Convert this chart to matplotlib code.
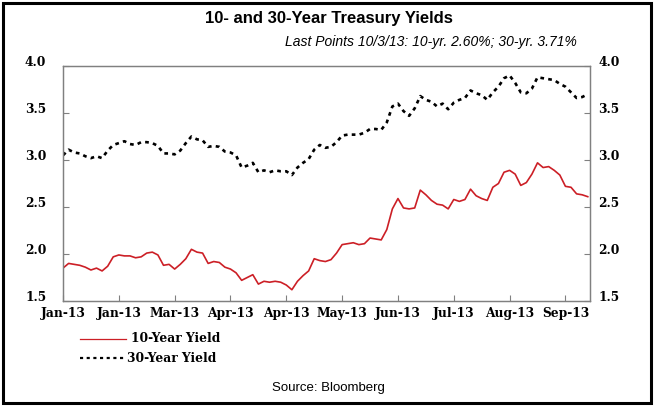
import matplotlib
matplotlib.use("Agg")
import matplotlib.pyplot as plt
from matplotlib.lines import Line2D
from matplotlib.patches import Rectangle
import numpy as np

# Yields sampled every second trading day, Jan 2 - Oct 3 2013
ten_year = [
    1.85, 1.90, 1.89, 1.88, 1.86, 1.83, 1.85, 1.82, 1.87, 1.97,
    1.99, 1.98, 1.98, 1.96, 1.97, 2.01, 2.02, 1.99, 1.88, 1.89,
    1.84, 1.89, 1.95, 2.05, 2.02, 2.01, 1.90, 1.92, 1.91, 1.86,
    1.84, 1.80, 1.72, 1.75, 1.78, 1.68, 1.71, 1.70, 1.71, 1.70,
    1.67, 1.62, 1.71, 1.77, 1.82, 1.95, 1.93, 1.92, 1.94, 2.01,
    2.10, 2.11, 2.12, 2.10, 2.11, 2.17, 2.16, 2.15, 2.26, 2.48,
    2.59, 2.49, 2.48, 2.49, 2.68, 2.63, 2.57, 2.53, 2.52, 2.48,
    2.58, 2.56, 2.58, 2.69, 2.62, 2.59, 2.57, 2.71, 2.75, 2.87,
    2.89, 2.85, 2.73, 2.76, 2.85, 2.97, 2.92, 2.93, 2.89, 2.84,
    2.72, 2.71, 2.64, 2.63, 2.61,
]
thirty_year = [
    3.05, 3.11, 3.08, 3.07, 3.04, 3.02, 3.04, 3.02, 3.10, 3.16,
    3.18, 3.20, 3.17, 3.16, 3.19, 3.19, 3.18, 3.15, 3.07, 3.07,
    3.06, 3.10, 3.18, 3.25, 3.22, 3.21, 3.14, 3.15, 3.14, 3.09,
    3.08, 3.05, 2.92, 2.94, 2.97, 2.87, 2.89, 2.87, 2.89, 2.88,
    2.88, 2.84, 2.92, 2.97, 3.01, 3.11, 3.16, 3.13, 3.14, 3.19,
    3.26, 3.27, 3.27, 3.27, 3.29, 3.33, 3.33, 3.32, 3.40, 3.57,
    3.60, 3.52, 3.47, 3.55, 3.68, 3.64, 3.62, 3.57, 3.60, 3.54,
    3.61, 3.64, 3.66, 3.74, 3.71, 3.69, 3.64, 3.72, 3.78, 3.87,
    3.90, 3.82, 3.72, 3.71, 3.76, 3.88, 3.87, 3.86, 3.85, 3.81,
    3.78, 3.72, 3.66, 3.67, 3.70,
]
month_labels = ["Jan-13", "Jan-13", "Mar-13", "Apr-13", "Apr-13",
                "May-13", "Jun-13", "Jul-13", "Aug-13", "Sep-13"]
y_ticks = [1.5, 2.0, 2.5, 3.0, 3.5, 4.0]

RED = "#cc1f26"
GRAY = "#808080"
tick_font = dict(family="DejaVu Serif", size=8.8, weight="bold")

fig = plt.figure(figsize=(6.57, 4.07), dpi=100)
fig.patch.set_facecolor("white")
ax = fig.add_axes([0.0959, 0.2604, 0.8021, 0.5774])

x = np.arange(len(ten_year))
ax.plot(x, ten_year, color=RED, lw=1.2)
ax.plot(x, thirty_year, color="black", lw=1.9, linestyle=(0, (1.4, 1.6)))

ax.set_xlim(0, 94.4)
ax.set_ylim(1.5, 4.0)
ax.set_xticks(np.arange(0, 100, 10))
ax.set_xticklabels(month_labels, fontdict=tick_font)
ax.set_yticks(y_ticks)
ax.set_yticklabels([f"{v:.1f}" for v in y_ticks], fontdict=tick_font,
                   va="baseline")
for s in ax.spines.values():
    s.set_color(GRAY)
    s.set_linewidth(0.9)
ax.tick_params(axis="x", direction="in", length=4, color=GRAY, pad=4)
ax.tick_params(axis="y", direction="in", length=4, color=GRAY, pad=12)

# right-hand axis repeats the same scale
axr = ax.twinx()
axr.set_ylim(ax.get_ylim())
axr.set_yticks(y_ticks)
axr.set_yticklabels([f"{v:.1f}" for v in y_ticks], fontdict=tick_font,
                    va="baseline")
axr.tick_params(axis="y", direction="in", length=4, color=GRAY, pad=6)
for s in axr.spines.values():
    s.set_color(GRAY)
    s.set_linewidth(0.9)

# titles
fig.text(0.5, 1 - 18 / 407, "10- and 30-Year Treasury Yields",
         ha="center", va="center", fontsize=12, weight="bold",
         family="Liberation Sans")
fig.text(577 / 657, 1 - 42 / 407,
         "Last Points 10/3/13: 10-yr. 2.60%; 30-yr. 3.71%",
         ha="right", va="center", fontsize=10, style="italic",
         family="Liberation Sans")

# legend below the chart
fig.add_artist(Line2D([80 / 657, 126 / 657], [1 - 339 / 407] * 2,
                      color=RED, lw=0.9))
fig.text(131 / 657, 1 - 339 / 407, "10-Year Yield", ha="left", va="center",
         **tick_font)
fig.add_artist(Line2D([80 / 657, 126 / 657], [1 - 358 / 407] * 2,
                      color="black", lw=1.6, linestyle=(0, (1.4, 1.6))))
fig.text(127 / 657, 1 - 358 / 407, "30-Year Yield", ha="left", va="center",
         **tick_font)

fig.text(0.5, 1 - 388 / 407, "Source: Bloomberg", ha="center", va="center",
         fontsize=9.5, family="Liberation Sans")

# outer frame
fig.add_artist(Rectangle((3 / 657, 4 / 407), 648 / 657, 400 / 407,
                         transform=fig.transFigure, fill=False,
                         edgecolor="black", lw=2.2))

fig.savefig("out.png", dpi=100, facecolor="white")
